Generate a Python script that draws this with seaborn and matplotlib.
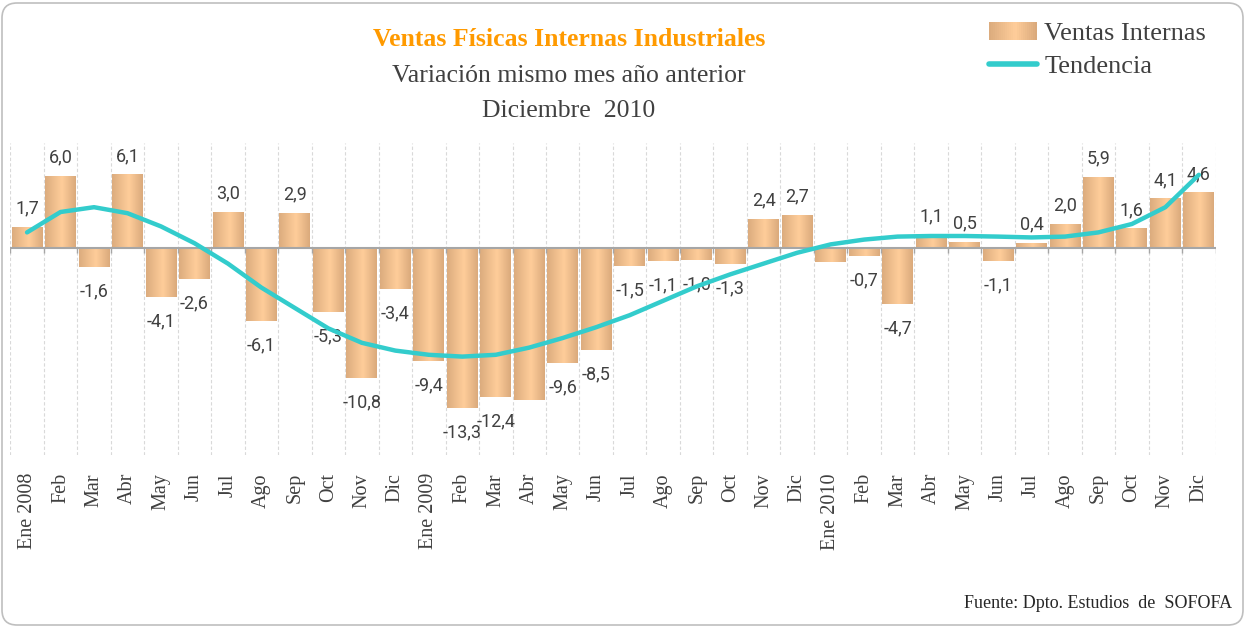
import numpy as np
import pandas as pd
import matplotlib
matplotlib.use('Agg')
import matplotlib.pyplot as plt
import seaborn as sns
from matplotlib.colors import LinearSegmentedColormap
from matplotlib.patches import Rectangle, FancyBboxPatch
from matplotlib.lines import Line2D
from matplotlib.legend_handler import HandlerBase


meses = ['Ene', 'Feb', 'Mar', 'Abr', 'May', 'Jun', 'Jul', 'Ago', 'Sep', 'Oct', 'Nov', 'Dic']
anios = [2008, 2009, 2010]

# variacion % mismo mes año anterior
ventas = [
    1.7, 6.0, -1.6, 6.1, -4.1, -2.6, 3.0, -6.1, 2.9, -5.3, -10.8, -3.4,
    -9.4, -13.3, -12.4, -12.7, -9.6, -8.5, -1.5, -1.1, -1.0, -1.3, 2.4, 2.7,
    -1.2, -0.7, -4.7, 1.1, 0.5, -1.1, 0.4, 2.0, 5.9, 1.6, 4.1, 4.6,
]
tendencia = [
    1.3, 3.0, 3.4, 2.9, 1.8, 0.4, -1.3, -3.3, -5.0, -6.7, -7.9, -8.55,
    -8.9, -9.05, -8.9, -8.3, -7.5, -6.6, -5.6, -4.4, -3.2, -2.2, -1.3, -0.4,
    0.3, 0.7, 0.95, 1.0, 1.0, 0.95, 0.88, 0.95, 1.3, 2.0, 3.4, 6.1,
]
# meses cuya etiqueta no aparece en el grafico
sin_etiqueta = ['2009-04', '2010-01']

claves = [f'{a}-{i + 1:02d}' for a in anios for i in range(12)]
etiquetas_x = [f'{m} {a}' if m == 'Ene' else m for a in anios for m in meses]

df = pd.DataFrame({'clave': claves, 'etiqueta': etiquetas_x,
                   'ventas': ventas, 'tendencia': tendencia})

gris_texto = '#404040'
serif = 'Liberation Serif'
cmap_barra = LinearSegmentedColormap.from_list(
    'barra', [(0, '#DCAC7E'), (0.55, '#FFCD9A'), (1, '#DAAA7C')])
color_linea = '#33CCCC'

fig = plt.figure(figsize=(12.45, 6.28), dpi=100)
ax = fig.add_axes([10.3 / 1245, 1 - 455 / 628, 1205.3 / 1245, 312 / 628])

sns.barplot(data=df, x='clave', y='ventas', width=0.92, color='#F2C291',
            ax=ax, zorder=2)

# degradado horizontal en cada barra
grad = np.linspace(0, 1, 64).reshape(1, -1)
for p in list(ax.patches):
    x0, y0, w, h = p.get_x(), p.get_y(), p.get_width(), p.get_height()
    ax.imshow(grad, extent=[x0, x0 + w, min(y0, y0 + h), max(y0, y0 + h)],
              aspect='auto', cmap=cmap_barra, zorder=2, interpolation='bicubic')
    p.set_visible(False)

n = len(df)
ymin, ymax = -17.25, 8.75
limites = np.arange(n + 1) - 0.5
ax.vlines(limites, ymin, ymax, color='#D9D9D9', lw=0.8,
          linestyles=(0, (3, 2)), zorder=1)
ax.axhline(0, color='#A6A6A6', lw=1.5, zorder=3)
ax.vlines(limites, -0.42, 0, color='#A6A6A6', lw=1, zorder=3)

for i, row in df.iterrows():
    if row.clave in sin_etiqueta:
        continue
    v = row.ventas
    txt = f'{v:.1f}'.replace('.', ',')
    if v >= 0:
        ax.annotate(txt, (i, v), xytext=(0, 10), textcoords='offset points',
                    ha='center', va='baseline', fontfamily='Roboto',
                    fontsize=13, color=gris_texto, zorder=4)
    else:
        ax.annotate(txt, (i, v), xytext=(0, -11), textcoords='offset points',
                    ha='center', va='top', fontfamily='Roboto',
                    fontsize=13, color=gris_texto, zorder=4)

sns.lineplot(x=df.index, y=df['tendencia'], color=color_linea, lw=3.2,
             ax=ax, zorder=5, solid_capstyle='round', solid_joinstyle='round')

ax.set_xlim(-0.5, n - 0.5)
ax.set_ylim(ymin, ymax)
ax.set_xticks(range(n))
ax.set_xticklabels(df['etiqueta'], rotation=90, fontfamily=serif,
                   fontsize=14.5, color=gris_texto)
ax.tick_params(axis='x', length=0, pad=13)
ax.set_yticks([])
ax.set_xlabel(None)
ax.set_ylabel(None)
for s in ax.spines.values():
    s.set_visible(False)
ax.patch.set_alpha(0)

# titulos
fig.text(569 / 1245, 1 - 40 / 628, 'Ventas Físicas Internas Industriales',
         ha='center', va='center', fontfamily=serif, fontweight='bold',
         fontsize=18.5, color='#FF9A00')
fig.text(569 / 1245, 1 - 76 / 628, 'Variación mismo mes año anterior',
         ha='center', va='center', fontfamily=serif, fontsize=18.5, color=gris_texto)
fig.text(569 / 1245, 1 - 111 / 628, 'Diciembre  2010',
         ha='center', va='center', fontfamily=serif, fontsize=18.5, color=gris_texto)
fig.text(1232 / 1245, 1 - 603 / 628, 'Fuente: Dpto. Estudios  de  SOFOFA',
         ha='right', va='center', fontfamily=serif, fontsize=13, color='#262626')


class HandlerDegradado(HandlerBase):
    def create_artists(self, legend, orig_handle, xdescent, ydescent,
                       width, height, fontsize, trans):
        arts = []
        k = 24
        for j in range(k):
            r = Rectangle((-xdescent + j * width / k, -ydescent), width / k * 1.1,
                          height, facecolor=cmap_barra(j / (k - 1)),
                          edgecolor='none', transform=trans)
            arts.append(r)
        return arts


h_barra = Rectangle((0, 0), 1, 1)
h_linea = Line2D([], [], color=color_linea, lw=4, solid_capstyle='round')
fig.legend([h_barra, h_linea], ['Ventas Internas', 'Tendencia'],
           handler_map={Rectangle: HandlerDegradado()},
           loc='upper left', bbox_to_anchor=(989 / 1245, 1 - 22 / 628),
           frameon=False, prop={'family': serif, 'size': 19},
           labelcolor=gris_texto, handlelength=1.8, handleheight=0.65,
           handletextpad=0.3, labelspacing=0.36, borderpad=0, borderaxespad=0)

# marco redondeado del grafico
marco = FancyBboxPatch((0.02, 0.03), 12.41, 6.22, boxstyle='round,pad=0,rounding_size=0.15',
                       transform=fig.dpi_scale_trans, facecolor='none',
                       edgecolor='#BFBFBF', lw=1.2)
fig.patches.append(marco)

fig.savefig('out.png', dpi=100)
